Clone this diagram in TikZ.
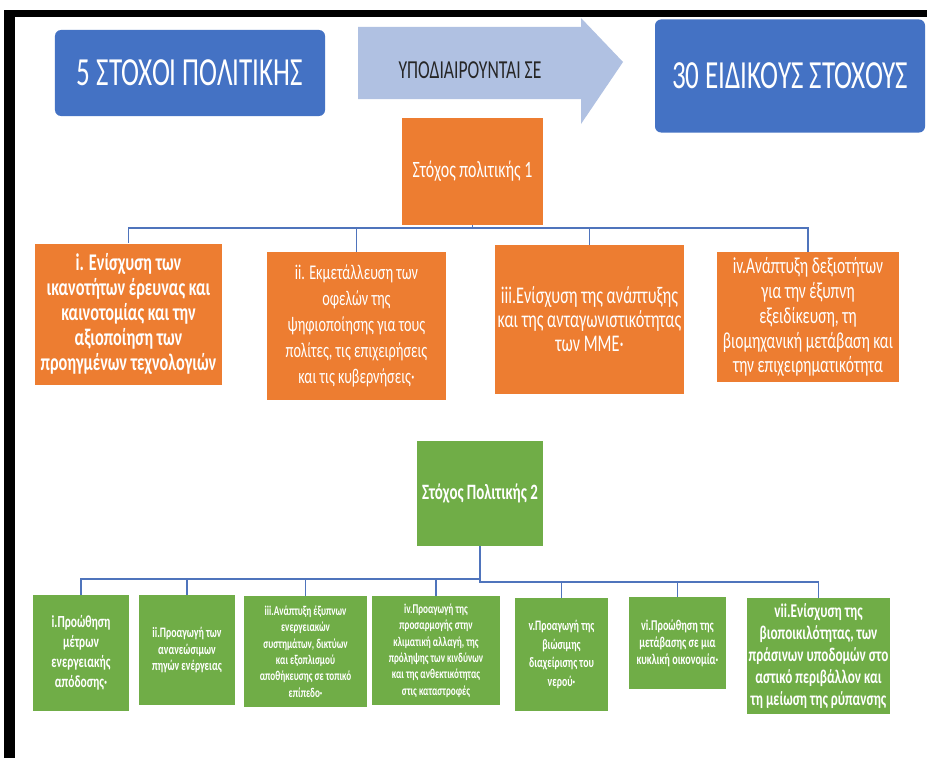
\documentclass[tikz,border=0pt]{standalone}
\usepackage{fontspec}
\setmainfont{Carlito}[FakeStretch=0.68]
\definecolor{cblue}{HTML}{4472C4}
\definecolor{carrow}{HTML}{B0C1E2}
\definecolor{corange}{HTML}{ED7D31}
\definecolor{cgreen}{HTML}{70AD47}
\definecolor{cline}{HTML}{4F74BC}
\tikzset{
  titlebox/.style={fill=cblue, rounded corners=6bp, inner sep=0pt, text=white, font=\fontsize{40}{46}\selectfont},
  obox/.style={fill=corange, inner sep=0pt, text=white, align=center},
  gbox/.style={fill=cgreen, inner sep=0pt, text=white, align=center},
  conn/.style={draw=cline, line width=1.1bp},
}
\newcommand{\fs}[2]{\fontsize{#1}{#2}\selectfont}
\begin{document}
\begin{tikzpicture}[x=1bp,y=-1bp]
\useasboundingbox (0,0) rectangle (927,758);
\fill[white] (0,0) rectangle (927,758);
% frame
\fill[black] (4,10) rectangle (927,17);
\fill[black] (4,10) rectangle (15,758);

% top row
\node[titlebox, minimum width=270bp, minimum height=86bp] (t1) at (190,73) {5 ΣΤΟΧΟΙ ΠΟΛΙΤΙΚΗΣ};
\node[titlebox, minimum width=270bp, minimum height=113bp] (t2) at (790,76) {30 ΕΙΔΙΚΟΥΣ ΣΤΟΧΟΥΣ};
\fill[carrow] (358,27) -- (581,27) -- (581,18) -- (623,62) -- (581,124) -- (581,99) -- (358,99) -- cycle;
\node[font=\fs{26}{30}, text=black!85] (arr) at (470,70) {ΥΠΟΔΙΑΙΡΟΥΝΤΑΙ ΣΕ};

% policy objective 1
\node[obox, minimum width=141bp, minimum height=107bp, font=\fs{23.5}{27}] (p1) at (472.5,171.5) {Στόχος πολιτικής 1};
\coordinate (bus1) at (0,228);
\node[obox, minimum width=187bp, minimum height=141bp, font=\bfseries\fs{24}{25}] (o1) at (128.5,314)
  {i. Ενίσχυση των\\ικανοτήτων έρευνας και\\καινοτομίας και την\\αξιοποίηση των\\προηγμένων τεχνολογιών};
\node[obox, minimum width=179bp, minimum height=148bp, font=\fs{21}{26}] (o2) at (356.5,326)
  {ii. Εκμετάλλευση των\\οφελών της\\ψηφιοποίησης για τους\\πολίτες, τις επιχειρήσεις\\και τις κυβερνήσεις·};
\node[obox, minimum width=189bp, minimum height=149bp, font=\fs{24}{24}] (o3) at (589.5,319.5)
  {iii.Ενίσχυση της ανάπτυξης\\και της ανταγωνιστικότητας\\των ΜΜΕ·};
\node[obox, minimum width=182bp, minimum height=130bp, font=\fs{23}{25}] (o4) at (808,317)
  {iv.Ανάπτυξη δεξιοτήτων\\για την έξυπνη\\εξειδίκευση, τη\\βιομηχανική μετάβαση και\\την επιχειρηματικότητα};
\foreach \c in {o1,o2,o3,o4}
  \draw[conn] (p1.south) -- (p1.south |- bus1) -| (\c.north);

% policy objective 2
\node[gbox, minimum width=126bp, minimum height=105bp, font=\bfseries\fs{22}{26}] (p2) at (480,493.5) {Στόχος Πολιτικής 2};
\coordinate (busL) at (0,579);
\coordinate (busR) at (0,582);
\node[gbox, minimum width=96bp, minimum height=116bp, font=\bfseries\fs{17}{20}] (g1) at (81,653)
  {i.Προώθηση\\μέτρων\\ενεργειακής\\απόδοσης·};
\node[gbox, minimum width=96bp, minimum height=110bp, font=\bfseries\fs{14.5}{17}] (g2) at (187,650)
  {ii.Προαγωγή των\\ανανεώσιμων\\πηγών ενέργειας};
\node[gbox, minimum width=123bp, minimum height=111bp, font=\bfseries\fs{13.5}{16.5}] (g3) at (305.5,651.5)
  {iii.Ανάπτυξη έξυπνων\\ενεργειακών\\συστημάτων, δικτύων\\και εξοπλισμού\\αποθήκευσης σε τοπικό\\επίπεδο·};
\node[gbox, minimum width=128bp, minimum height=109bp, font=\bfseries\fs{13.5}{16.5}] (g4) at (436,650.5)
  {iv.Προαγωγή της\\προσαρμογής στην\\κλιματική αλλαγή, της\\πρόληψης των κινδύνων\\και της ανθεκτικότητας\\στις καταστροφές};
\node[gbox, minimum width=93bp, minimum height=113bp, font=\bfseries\fs{14.5}{18.5}] (g5) at (561.5,654.5)
  {v.Προαγωγή της\\βιώσιμης\\διαχείρισης του\\νερού·};
\node[gbox, minimum width=97bp, minimum height=92bp, font=\bfseries\fs{15}{17}] (g6) at (677.5,643)
  {vi.Προώθηση της\\μετάβασης σε μια\\κυκλική οικονομία·};
\node[gbox, minimum width=143bp, minimum height=116bp, font=\bfseries\fs{19.5}{22}] (g7) at (818.5,656)
  {vii.Ενίσχυση της\\βιοποικιλότητας, των\\πράσινων υποδομών στο\\αστικό περιβάλλον και\\τη μείωση της ρύπανσης};
\foreach \c in {g1,g2,g3,g4}
  \draw[conn] (p2.south) -- (p2.south |- busL) -| (\c.north);
\foreach \c in {g5,g6,g7}
  \draw[conn] (p2.south) -- (p2.south |- busR) -| (\c.north);
\end{tikzpicture}
\end{document}
